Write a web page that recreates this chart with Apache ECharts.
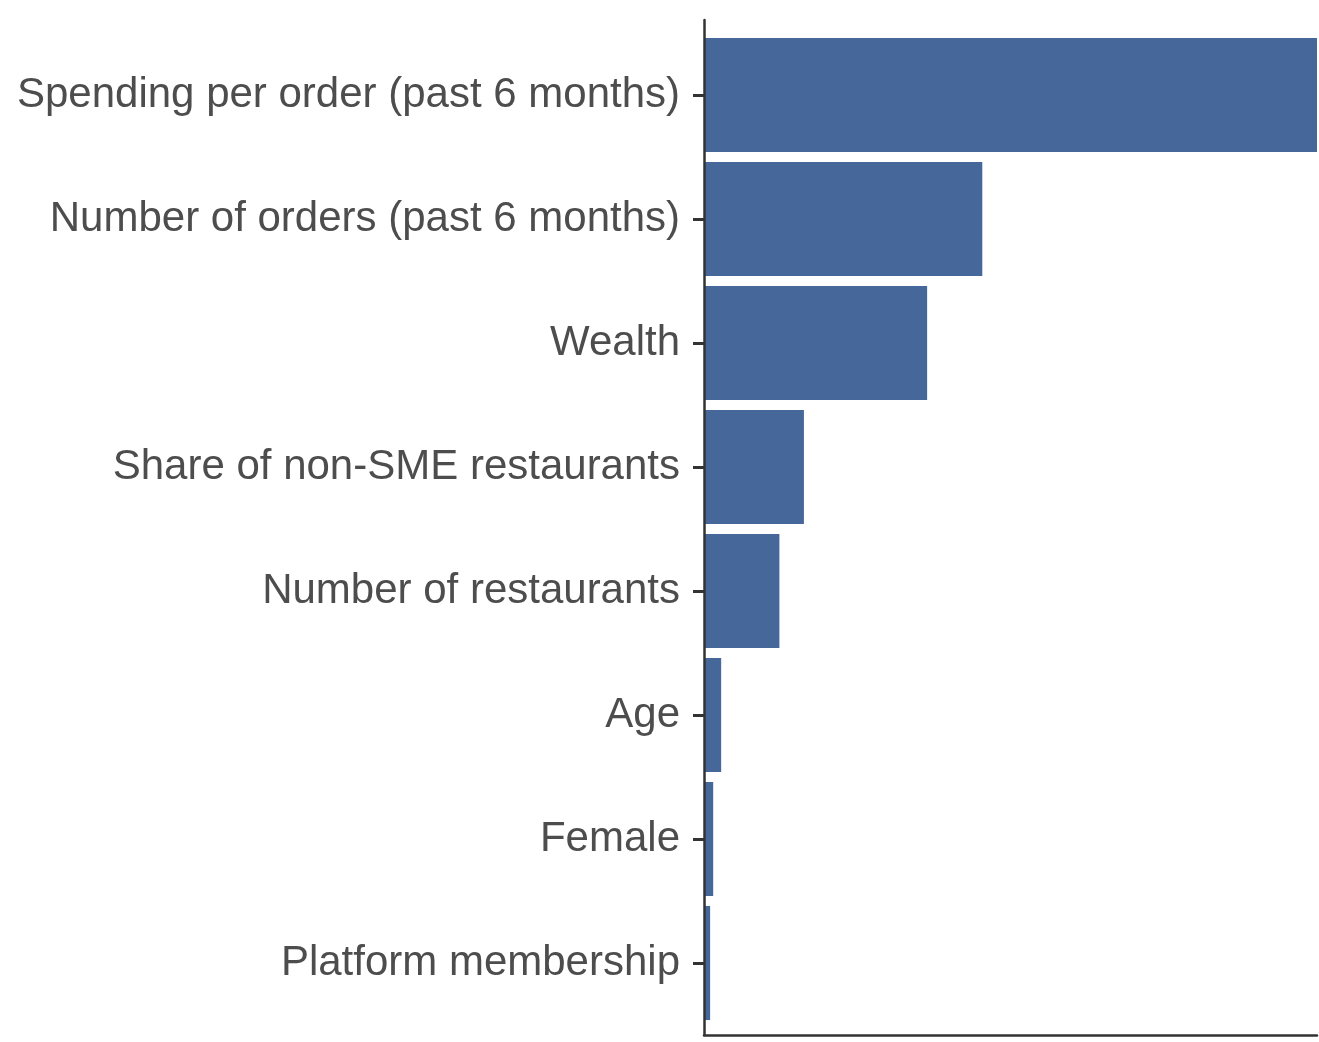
<!DOCTYPE html>
<html>
<head>
<meta charset="utf-8">
<script src="https://cdn.jsdelivr.net/npm/echarts@6/dist/echarts.min.js"></script>
<style>
  html, body { margin: 0; padding: 0; background: #fff; }
  #main { width: 1319px; height: 1042px; }
</style>
</head>
<body>
<div id="main"></div>
<script>
// feature importance, relative scale (top bar = 100)
const categories = [
    'Spending per order (past 6 months)',
    'Number of orders (past 6 months)',
    'Wealth',
    'Share of non-SME restaurants',
    'Number of restaurants',
    'Age',
    'Female',
    'Platform membership'
];
const importance = [100, 45.4, 36.4, 16.3, 12.3, 2.8, 1.5, 1.0];

let chart = echarts.init(document.getElementById('main'));
const axisColor = '#333333';

option = {
    backgroundColor: '#ffffff',
    animation: false,
    grid: [
        // panel frame (axis lines stretch past the bars like ggplot)
        {left: 704, right: 2, top: 20, bottom: 7},
        // bars
        {left: 704, right: 2, top: 33, bottom: 17}
    ],
    xAxis: [
        {
            gridIndex: 0, type: 'value', min: 0, max: 1, z: 10,
            axisLine: {show: true, lineStyle: {color: axisColor, width: 2.5}},
            axisTick: {show: false}, axisLabel: {show: false}, splitLine: {show: false}
        },
        {
            gridIndex: 1, type: 'value', min: 0, max: 100,
            axisLine: {show: false}, axisTick: {show: false},
            axisLabel: {show: false}, splitLine: {show: false}
        }
    ],
    yAxis: [
        {
            gridIndex: 0, type: 'value', min: 0, max: 1, z: 10,
            axisLine: {show: true, lineStyle: {color: axisColor, width: 2.5}},
            axisTick: {show: false}, axisLabel: {show: false}, splitLine: {show: false}
        },
        {
            gridIndex: 1, type: 'category', data: categories, inverse: true,
            axisLine: {show: false},
            axisTick: {show: true, alignWithLabel: true, length: 11, lineStyle: {color: axisColor, width: 3}},
            axisLabel: {
                margin: 24,
                color: '#4d4d4d',
                fontSize: 42,
                padding: [5, 0, 0, 0],
                fontFamily: 'Liberation Sans, Arial, sans-serif'
            },
            splitLine: {show: false}
        }
    ],
    series: [
        {
            type: 'bar',
            xAxisIndex: 1,
            yAxisIndex: 1,
            data: importance,
            barWidth: '92%',
            itemStyle: {color: '#46679a'}
        }
    ]
};
chart.setOption(option);
</script>
</body>
</html>
